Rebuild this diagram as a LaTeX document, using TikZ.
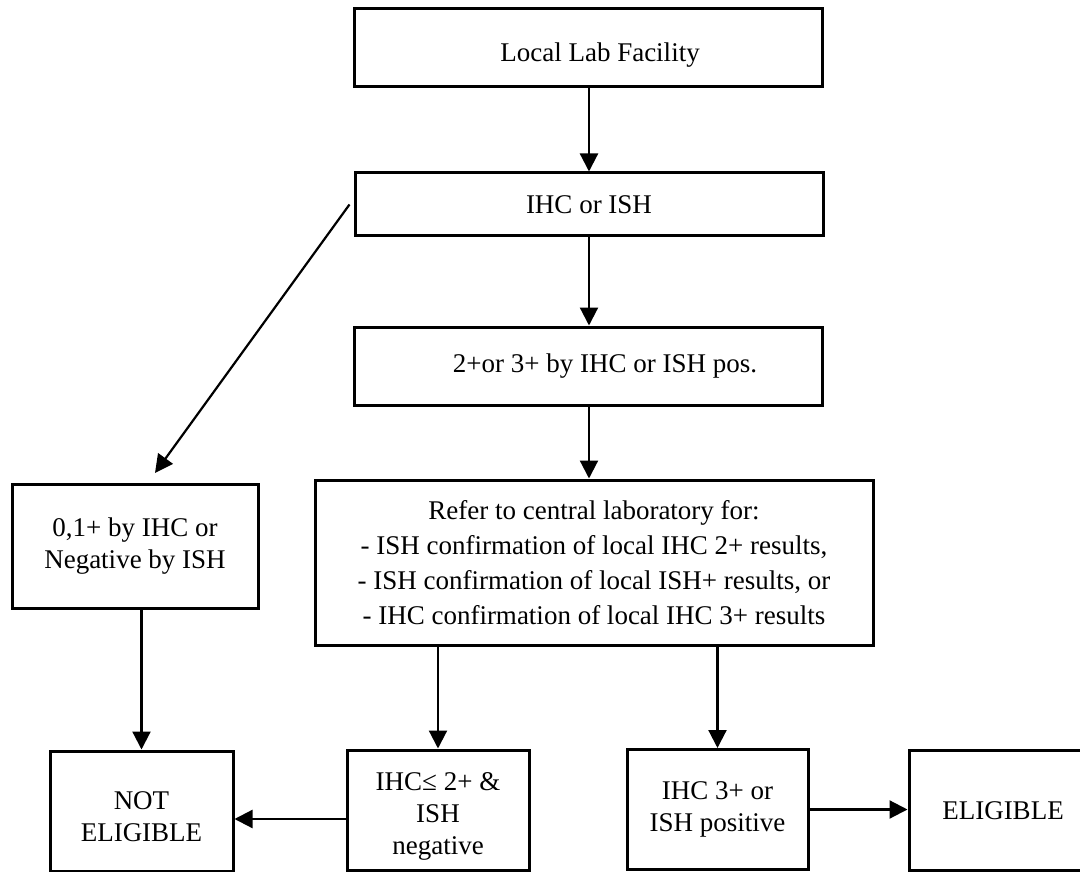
\documentclass[tikz,border=0pt]{standalone}
\usepackage{fontspec}
\setmainfont{Liberation Serif}
\usetikzlibrary{arrows.meta,positioning,calc}

\begin{document}
\begin{tikzpicture}[x=1pt,y=-1pt,
  >={Triangle[length=18pt,width=18pt]},
  flow/.style={->,draw,line width=2.2pt}]
	\tikzset{
	  basic/.style   = {draw, rectangle, line width=3pt, align=center, inner sep=0pt,
	                    font=\fontsize{27}{32}\selectfont},
	  step box/.style = {basic, minimum width=468, minimum height=78},
	  end box/.style  = {basic, minimum height=120}
	}
	\useasboundingbox (0,0) rectangle (1080,872);
	\coordinate (spine) at (589,0);
	\coordinate (diagtip) at (155,473);

	% The main column
	\node[step box] (lab) at (588,47.5) {\mbox{}\\[2pt]\hspace*{24pt}Local Lab Facility};
	\node[step box, minimum height=63] (ihc) at (589,204.5) {IHC or ISH};
	\node[step box] (pos) at (588,366) {\hspace*{34pt}2+or 3+ by IHC or ISH pos.};
	\node[basic, minimum width=558, minimum height=165, font=\fontsize{27}{35}\selectfont]
	  (refer) at (594,562.5) {Refer to central laboratory for:\\
	  - ISH confirmation of local IHC 2+ results,\\
	  - ISH confirmation of local ISH+ results, or\\
	  - IHC confirmation of local IHC 3+ results};

	% The negative branch
	\node[basic, minimum width=246, minimum height=124] (neg) at (135,546)
	  {0,1+ by IHC or\\Negative by ISH};

	% The bottom row
	\node[end box, minimum width=183] (notel) at (141.5,811) {\mbox{}\\[-2pt]NOT\\ELIGIBLE};
	\node[end box, minimum width=182] (ihcneg) at (438,810) {\mbox{}\\[-2pt]IHC≤ 2+ \&\\ISH\\negative};
	\node[end box, minimum width=181] (ihcpos) at (717.5,809.5) {IHC 3+ or\\ISH positive};
	\node[end box, minimum width=172] (elig) at (995,810.5) {\hspace*{16pt}ELIGIBLE};

	\draw[flow] (lab.south -| spine) -- (ihc.north -| spine);
	\draw[flow] (ihc.south -| spine) -- (pos.north -| spine);
	\draw[flow] (pos.south -| spine) -- (refer.north -| spine);
	\draw[flow] ([xshift=-4pt]ihc.west) -- (diagtip);
	\draw[flow] (neg.south -| notel.north) -- (notel.north);
	\draw[flow] (refer.south -| ihcneg.north) -- (ihcneg.north);
	\draw[flow] (refer.south -| ihcpos.north) -- (ihcpos.north);
	\draw[flow] ([yshift=-9pt]ihcneg.west) -- ([yshift=-9pt]ihcneg.west -| notel.east);
	\draw[flow] (ihcpos.east) -- (ihcpos.east -| elig.west);
\end{tikzpicture}
\end{document}
